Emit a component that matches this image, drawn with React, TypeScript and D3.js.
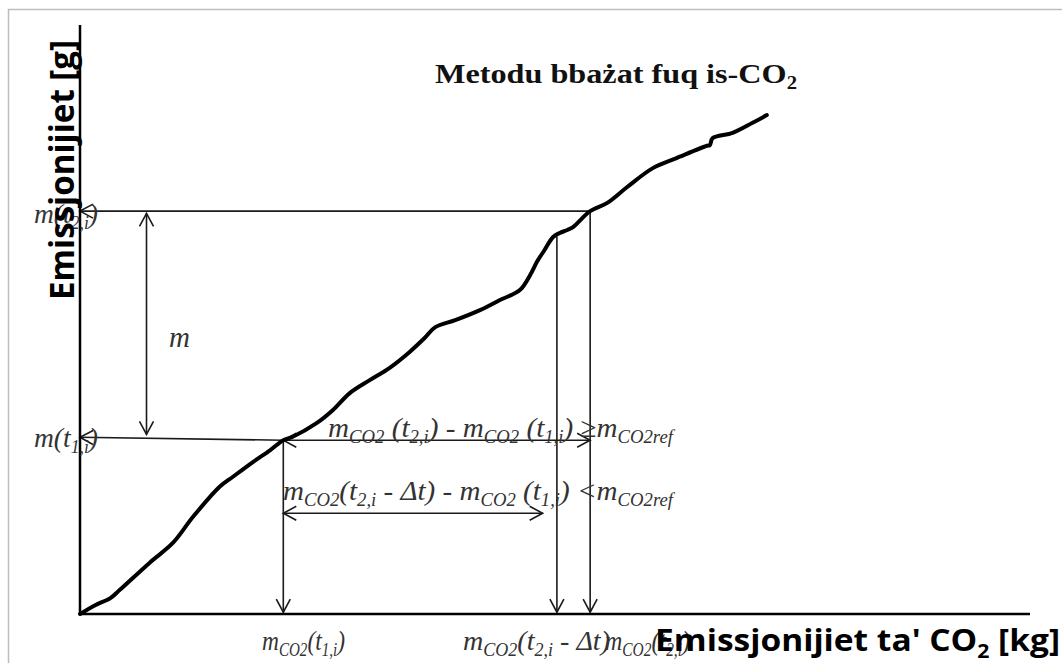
import React from "react";
import * as d3 from "d3";

// Curve: cumulative emissions (g) vs cumulative CO2 (kg)
const curveX = [0, 0.16, 0.32, 0.42, 0.74, 0.98, 1.19, 1.47, 1.61, 1.82, 2.0, 2.14, 2.24, 2.49, 2.66, 2.84, 3.05, 3.26, 3.47, 3.63, 3.74, 3.95, 4.21, 4.42, 4.63, 4.74, 4.81, 4.89, 4.98, 5.05, 5.13, 5.19, 5.37, 5.55, 5.76, 6.03, 6.28, 6.6, 6.63, 6.66, 6.87, 7.08, 7.23];
const curveY = [0, 1.5, 2.7, 4.1, 8.8, 12.1, 16.5, 21.6, 23.3, 25.8, 27.8, 29.5, 30.1, 32.4, 34.6, 37.5, 39.7, 41.8, 44.5, 46.9, 48.7, 49.9, 51.6, 53.3, 55.0, 57.6, 59.8, 61.8, 64.0, 64.7, 65.2, 65.7, 68.4, 69.8, 72.5, 75.7, 77.4, 79.5, 79.6, 80.8, 81.7, 83.4, 84.7];

// Annotation key values (data units)
const t1X = 2.14;
const t2dtX = 5.02;
const t2X = 5.37;
const mT1 = 29.5;
const mT1Axis = 30.0;
const mT2 = 68.4;
const t2dtY = 64.1;
const mArrowX = 0.7;
const lowerArrowY = 17.1;
const lowerArrowEnd = 4.87;

const xDomain = [0, 10];
const yDomain = [0, 100];

const titleText = "Metodu bbażat fuq is-CO";
const xLabelText = "Emissjonijiet ta' CO";
const yLabelText = "Emissjonijiet [g]";

const serif = "'Liberation Serif', 'Times New Roman', serif";
const sans = "'Open Sans', 'Noto Sans', sans-serif";

const Sub = ({ children, size = 18, dy = 6 }: any) => (
  <>
    <tspan fontSize={size} dy={dy}>{children}</tspan>
    <tspan dy={-dy}>{"\u200B"}</tspan>
  </>
);

export default function App() {
  const x = d3.scaleLinear().domain(xDomain).range([80, 1030]);
  const y = d3.scaleLinear().domain(yDomain).range([614, 25]);
  const pts = curveX.map((v, i) => [v, curveY[i]] as [number, number]);
  const line = d3
    .line<[number, number]>()
    .x((d) => x(d[0]))
    .y((d) => y(d[1]))
    .curve(d3.curveCatmullRom.alpha(0.5));

  const ann = "#1a1a1a";
  const txt = "#333";
  const seg = (x1: number, y1: number, x2: number, y2: number, start = false, end = false) => (
    <line
      x1={x(x1)}
      y1={y(y1)}
      x2={x(x2)}
      y2={y(y2)}
      stroke={ann}
      strokeWidth={1.6}
      markerStart={start ? "url(#arr)" : undefined}
      markerEnd={end ? "url(#arr)" : undefined}
    />
  );

  return (
    <svg
      width={1062}
      height={663}
      style={{ position: "absolute", left: 0, top: 0, background: "#fff" }}
    >
      <defs>
        <marker
          id="arr"
          viewBox="-15 -9 17 18"
          refX={0}
          refY={0}
          markerWidth={17}
          markerHeight={18}
          markerUnits="userSpaceOnUse"
          orient="auto-start-reverse"
        >
          <path d="M-13,-7 L0,0 L-13,7" fill="none" stroke={ann} strokeWidth={1.6} />
        </marker>
      </defs>
      <rect x={8.5} y={9.5} width={1200} height={800} fill="none" stroke="#bdbdbd" strokeWidth={1.5} />

      {/* annotation lines */}
      {seg(t2X, mT2, 0, mT2, false, true)}
      {seg(mArrowX, mT2 - 0.4, mArrowX, mT1Axis + 0.5, true, true)}
      {seg(t1X, mT1, 0, mT1Axis, false, true)}
      {seg(t1X, mT1, t2X, mT1, true, true)}
      {seg(t1X, lowerArrowY, lowerArrowEnd, lowerArrowY, true, true)}
      {seg(t1X, mT1, t1X, 0.3, false, true)}
      {seg(t2dtX, t2dtY, t2dtX, 0.3, false, true)}
      {seg(t2X, mT2, t2X, 0.3, false, true)}

      {/* curve */}
      <path d={line(pts) || ""} fill="none" stroke="#000" strokeWidth={4} strokeLinejoin="round" strokeLinecap="round" />

      {/* axes */}
      <line x1={x(0)} y1={y(0)} x2={x(0)} y2={y(100)} stroke="#000" strokeWidth={2.5} />
      <line x1={x(0)} y1={y(0)} x2={x(10)} y2={y(0)} stroke="#000" strokeWidth={2.5} />

      {/* italic labels */}
      <g fontFamily={serif} fontStyle="italic" fill={txt} fontSize={28}>
        <text x={34} y={223} textLength={64} lengthAdjust="spacingAndGlyphs">
          m(t<Sub>2,i</Sub>)
        </text>
        <text x={169} y={347} fontSize={29}>m</text>
        <text x={34} y={447} textLength={64} lengthAdjust="spacingAndGlyphs">
          m(t<Sub>1,i</Sub>)
        </text>
        <text x={328} y={437} textLength={345} lengthAdjust="spacingAndGlyphs">
          m<Sub>CO2</Sub> (t<Sub>2,i</Sub>) - m<Sub>CO2</Sub> (t<Sub>1,i</Sub>) ≥m<Sub>CO2ref</Sub>
        </text>
        <text x={283} y={500} textLength={390} lengthAdjust="spacingAndGlyphs">
          m<Sub>CO2</Sub>(t<Sub>2,i</Sub> - Δt) - m<Sub>CO2</Sub> (t<Sub>1,i</Sub>) &lt;m<Sub>CO2ref</Sub>
        </text>
        <text x={262} y={650} textLength={83} lengthAdjust="spacingAndGlyphs">
          m<Sub>CO2</Sub>(t<Sub>1,i</Sub>)
        </text>
        <text x={463} y={650} textLength={147} lengthAdjust="spacingAndGlyphs">
          m<Sub>CO2</Sub>(t<Sub>2,i</Sub> - Δt)
        </text>
        <text x={605} y={650} textLength={85} lengthAdjust="spacingAndGlyphs">
          m<Sub>CO2</Sub>(t<Sub>2,i</Sub>)
        </text>
      </g>

      {/* title */}
      <text x={435} y={83} fontFamily={serif} fontWeight="bold" fontSize={28} fill="#111" textLength={362} lengthAdjust="spacingAndGlyphs">
        {titleText}
        <Sub size={18} dy={6}>2</Sub>
      </text>

      {/* axis titles */}
      <text x={655} y={651} fontFamily={sans} fontWeight="bold" fontSize={30} fill="#000" textLength={405} lengthAdjust="spacingAndGlyphs">
        {xLabelText}
        <tspan fontSize={19} dy={7}>2</tspan>
        <tspan dy={-7}> [kg]</tspan>
      </text>
      <text
        transform="translate(74,300) rotate(-90)"
        fontFamily={sans}
        fontWeight="bold"
        fontSize={34}
        fill="#000"
        textLength={260}
        lengthAdjust="spacingAndGlyphs"
      >
        {yLabelText}
      </text>
    </svg>
  );
}
